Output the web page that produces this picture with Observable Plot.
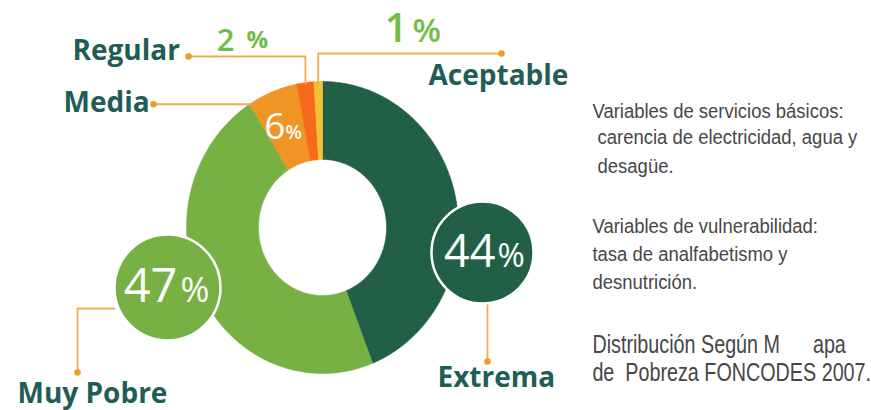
<!DOCTYPE html>
<html><head><meta charset="utf-8">
<script src="https://cdn.jsdelivr.net/npm/d3@7"></script>
<script src="https://cdn.jsdelivr.net/npm/@observablehq/plot@0.6"></script>
<style>
html,body{margin:0;padding:0;background:#fff;}
#chart svg text{white-space:pre;}
</style></head><body><div id="chart"></div>
<script>
// ---- data ----
const categories = ["Extrema", "Muy Pobre", "Media", "Regular", "Aceptable"];
const shares = [44, 47, 6, 2, 1];
const sliceColors = ["#215f47", "#77b144", "#ef9526", "#f7691b", "#f2c230"];
const noteLines = [
  "Variables de servicios básicos:",
  " carencia de electricidad, agua y",
  " desagüe.",
  "Variables de vulnerabilidad:",
  "tasa de analfabetismo y",
  "desnutrición.",
  "Distribución Según M      apa",
  "de  Pobreza FONCODES 2007."
];

// ---- layout ----
const W = 871, H = 410;
const donut = {cx: 322, cy: 227, rx: 136, ry: 146, irx: 64, iry: 68};
const labelColor = "#1f5d56";
const leaderColor = "#f5aa52";
const dotColor = "#f39a2e";
const pctGreen = "#6fbe47";
const labelFont = "'Open Sans', Lato, sans-serif";
const noteFont = "'Liberation Sans', Arial, sans-serif";

const rows = categories.map((name, i) => ({name, share: shares[i]}));
const arcs = d3.pie().sort(null).value(d => d.share)(rows);
const byName = Object.fromEntries(arcs.map(a => [a.data.name, a]));
const pt = (a, rx = donut.rx, ry = donut.ry) => [donut.cx + rx * Math.sin(a), donut.cy - ry * Math.cos(a)];
const midA = a => (a.startAngle + a.endAngle) / 2;

const slicePts = arcs.flatMap(arc => {
  const span = arc.endAngle - arc.startAngle;
  const n = Math.max(2, Math.ceil(span / 0.01));
  const outer = d3.range(n + 1).map(i => pt(arc.startAngle + span * i / n));
  const inner = d3.range(n + 1).map(i => pt(arc.endAngle - span * i / n, donut.irx, donut.iry));
  return [...outer, ...inner, outer[0]].map(([x, y]) => ({name: arc.data.name, x, y}));
});

// annotation layout per category
const regTop = pt(midA(byName["Regular"]));
const aceTop = pt(midA(byName["Aceptable"]));
const medEdge = pt(byName["Media"].startAngle);
const layout = {
  "Extrema": {
    bubble: {x: 482, y: 252, r: 51},
    num: {x: 495, y: 235, size: 45, weight: 400, color: "white"},
    pct: {x: 497, y: 243, size: 33, weight: 400, color: "white"},
    label: {x: 437, y: 367},
    leader: [[487, 304], [487, 361]]
  },
  "Muy Pobre": {
    bubble: {x: 167, y: 287, r: 53},
    num: {x: 177, y: 268, size: 47, weight: 400, color: "white"},
    pct: {x: 180, y: 277, size: 35, weight: 400, color: "white"},
    label: {x: 17, y: 383},
    leader: [[114, 308], [77, 308], [77, 372]]
  },
  "Media": {
    num: {x: 285, y: 112, size: 37, weight: 400, color: "white"},
    pct: {x: 285, y: 125, size: 19, weight: 600, color: "white"},
    label: {x: 63, y: 92},
    leader: [medEdge, [153, medEdge[1]]]
  },
  "Regular": {
    num: {x: 234, y: 28, size: 31, weight: 600, color: pctGreen},
    pct: {x: 246, y: 30, size: 24, weight: 700, color: pctGreen},
    label: {x: 72, y: 40},
    leader: [[regTop[0], regTop[1] + 1], [regTop[0], 56], [188, 56]]
  },
  "Aceptable": {
    num: {x: 407, y: 13, size: 40, weight: 600, color: pctGreen},
    pct: {x: 412, y: 18, size: 33, weight: 600, color: pctGreen},
    label: {x: 428, y: 65},
    leader: [[aceTop[0], aceTop[1] + 1], [aceTop[0], 53], [501, 53]]
  }
};

const bubbles = categories.filter(c => layout[c].bubble).map(name => ({name, ...layout[name].bubble}));
const leaderPts = categories.flatMap(name => layout[name].leader.map(([x, y]) => ({name, x, y})));
const leaderEnds = categories.map(name => {const p = layout[name].leader.at(-1); return {name, x: p[0], y: p[1]};});

const textMarks = categories.flatMap((name, i) => {
  const L = layout[name];
  return [
    Plot.text([{x: L.num.x, y: L.num.y, t: String(shares[i])}], {x: "x", y: "y", text: "t", textAnchor: "end", lineAnchor: "top",
      fontSize: L.num.size, fontWeight: L.num.weight, fill: L.num.color, fontFamily: labelFont}),
    Plot.text([{x: L.pct.x, y: L.pct.y, t: "%"}], {x: "x", y: "y", text: "t", textAnchor: "start", lineAnchor: "top",
      fontSize: L.pct.size, fontWeight: L.pct.weight, fill: L.pct.color, fontFamily: labelFont}),
    Plot.text([{x: L.label.x, y: L.label.y, t: name}], {x: "x", y: "y", text: "t", textAnchor: "start", lineAnchor: "top",
      fontSize: 28, fontWeight: 700, fill: labelColor, fontFamily: labelFont})
  ];
});

const noteX = 592;
const noteBaselines = [117, 143, 172, 232, 260, 288, 352, 380];
const noteSizes = [21, 21, 21, 21, 21, 21, 25, 25];
const noteSqueeze = {21: 0.88, 25: 0.79};
const notes = noteLines.map((t, i) => ({t, x: noteX, y: noteBaselines[i] - 0.71 * noteSizes[i], s: noteSizes[i]}));
const noteMarks = [21, 25].map(s => Plot.text(notes.filter(d => d.s === s), {x: "x", y: "y", text: "t", textAnchor: "start",
  lineAnchor: "top", fontSize: s, fill: "#474747", fontFamily: noteFont}));

const chart = Plot.plot({
  width: W, height: H, margin: 0,
  style: {background: "white", overflow: "visible"},
  x: {domain: [0, W], range: [0, W], axis: null},
  y: {domain: [0, H], range: [0, H], axis: null},
  color: {domain: categories, range: sliceColors},
  r: {type: "identity"},
  marks: [
    Plot.line(slicePts, {x: "x", y: "y", z: "name", fill: "name", stroke: "name", strokeWidth: 0.6, curve: "linear"}),
    Plot.line(leaderPts, {x: "x", y: "y", z: "name", stroke: leaderColor, strokeWidth: 1.8}),
    Plot.dot(leaderEnds, {x: "x", y: "y", r: 3.3, fill: dotColor}),
    Plot.dot(bubbles, {x: "x", y: "y", r: "r", fill: "name", stroke: "white", strokeWidth: 2.5}),
    ...textMarks,
    ...noteMarks
  ]
});

// condense the note text horizontally (narrow typeface in the original)
chart.querySelectorAll('g[aria-label="text"]').forEach(g => {
  const ff = g.getAttribute("font-family") || "";
  if (!ff.includes("Liberation")) return;
  const k = noteSqueeze[parseFloat(g.getAttribute("font-size"))] || 0.88;
  const wrap = document.createElementNS("http://www.w3.org/2000/svg", "g");
  wrap.setAttribute("transform", `translate(${noteX},0) scale(${k},1) translate(${-noteX},0)`);
  g.parentNode.insertBefore(wrap, g);
  wrap.appendChild(g);
});
document.getElementById("chart").appendChild(chart);
</script>
</body></html>
